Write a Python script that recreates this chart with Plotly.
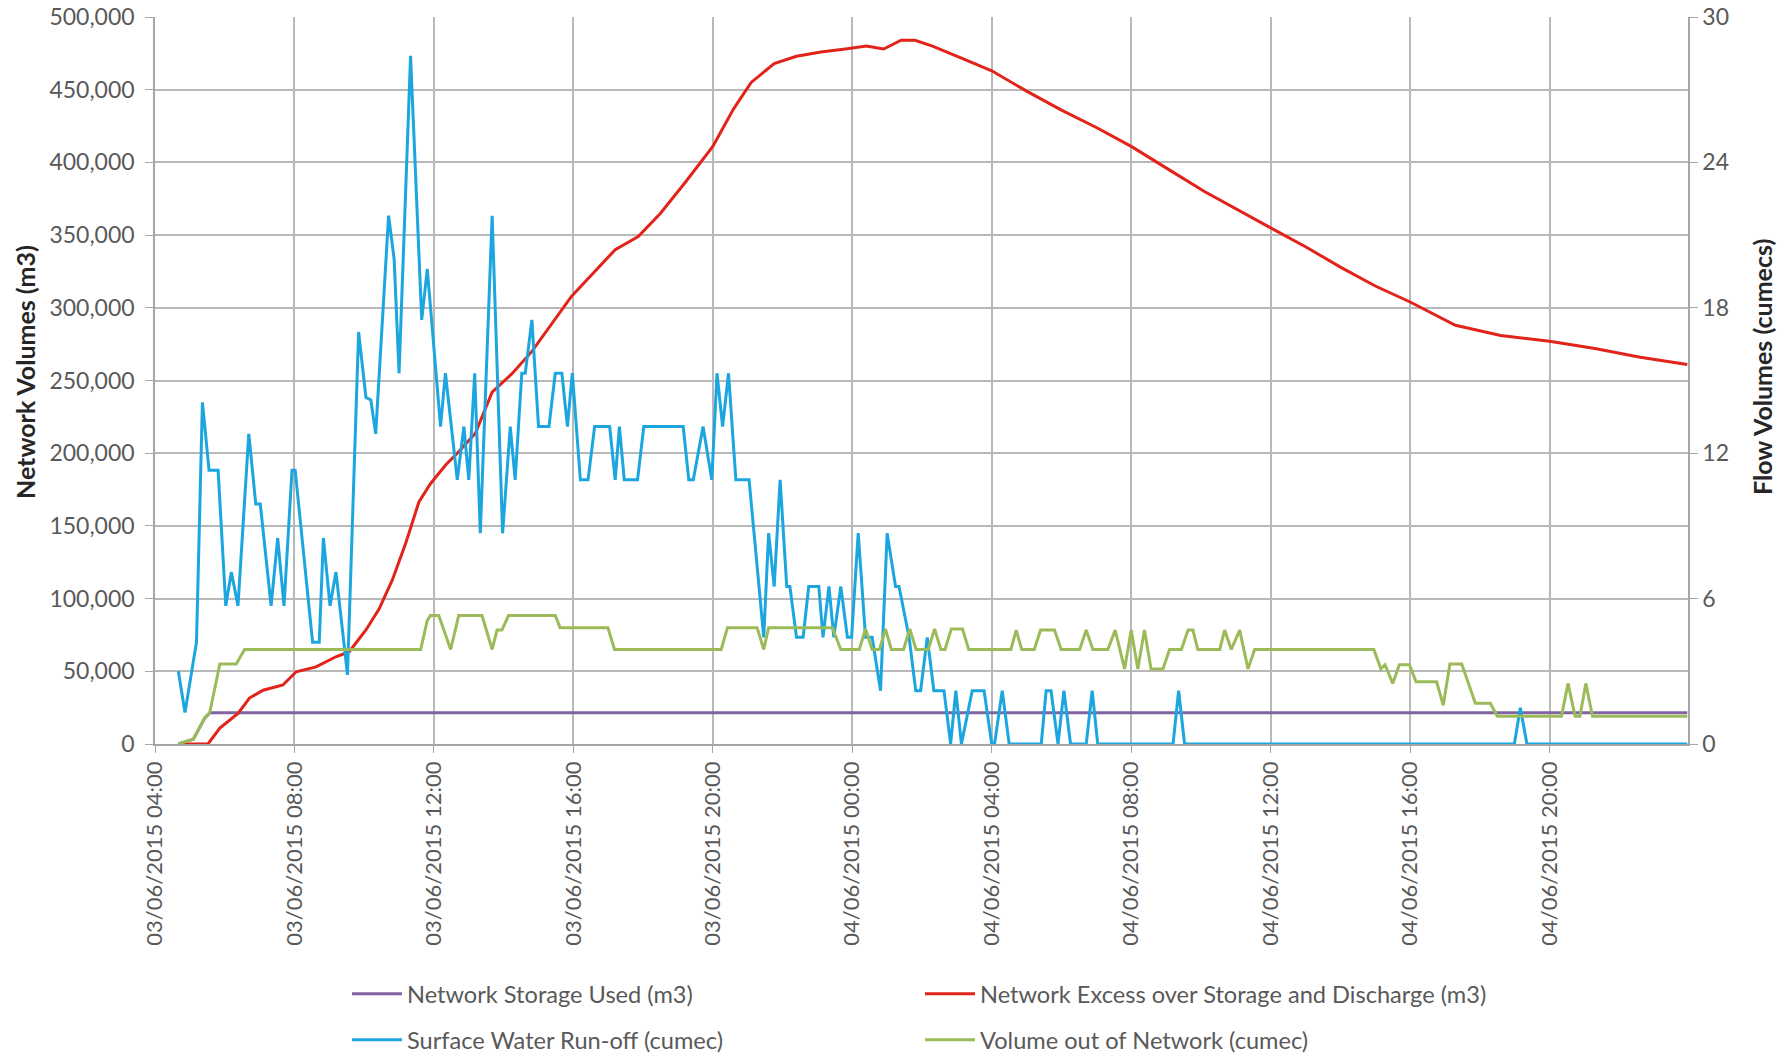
import pandas as pd
import plotly.graph_objects as go

# ---- data (time = hours after 03/06/2015 00:00) ----
storage_h = [4.67, 5.1, 5.43, 5.58, 47.95]
storage_m3 = [0, 3300, 18000, 21500, 21500]

excess_h = [4.67, 5.52, 5.86, 6.38, 6.71, 7.1, 7.67, 8.05, 8.62, 9.19, 9.57, 10.05, 10.43,
            10.81, 11.19, 11.57, 11.9, 12.33, 12.71, 13.19, 13.67, 14.24, 14.81, 15.38, 15.95,
            17.2, 17.86, 18.5, 19.2, 20.0, 20.6, 21.1, 21.76, 22.4, 23.1, 23.8, 24.4, 24.9,
            25.4, 25.8, 26.3, 27.2, 28.0, 29.0, 30.0, 31.0, 32.0, 33.15, 34.1, 36.0, 37.0,
            38.0, 39.0, 40.0, 41.3, 42.6, 44.0, 45.3, 46.6, 47.95]
excess_m3 = [0, 0, 11000, 21000, 31600, 37000, 40600, 49700, 53000, 60000, 63500, 78400, 93000,
             113000, 138000, 166500, 179000, 191700, 201000, 213800, 242000, 254700, 270000,
             289000, 308000, 340000, 349000, 365000, 386000, 411000, 437000, 455000, 468000,
             473000, 476000, 478000, 480000, 478000, 484000, 484000, 480000, 471000, 463000,
             449000, 436000, 424000, 411000, 394000, 380000, 355000, 342000, 328000, 315000,
             304000, 288000, 281000, 277000, 272000, 266000, 261000]

runoff_h = [4.67, 4.86, 5.19, 5.36, 5.55, 5.81, 6.03, 6.19, 6.38, 6.69, 6.89, 7.02, 7.33, 7.52,
            7.70, 7.93, 8.02, 8.52, 8.71, 8.83, 9.02, 9.19, 9.52, 9.84, 10.05, 10.19, 10.33,
            10.70, 10.86, 11.0, 11.33, 11.65, 11.81, 12.19, 12.33, 12.67, 12.86, 13.0, 13.17,
            13.33, 13.67, 13.97, 14.19, 14.33, 14.52, 14.62, 14.81, 15.0, 15.30, 15.48, 15.67,
            15.83, 15.97, 16.2, 16.42, 16.61, 17.04, 17.2, 17.32, 17.46, 17.84, 18.02, 19.15,
            19.31, 19.44, 19.72, 19.97, 20.12, 20.28, 20.45, 20.66, 21.04, 21.46, 21.6, 21.76,
            21.93, 22.12, 22.21, 22.4, 22.59, 22.75, 23.04, 23.16, 23.33, 23.47, 23.67, 23.86,
            23.98, 24.17, 24.38, 24.57, 24.81, 25.0, 25.24, 25.34, 25.63, 25.82, 25.96, 26.15,
            26.34, 26.63, 26.82, 26.97, 27.13, 27.44, 27.78, 28.0, 28.08, 28.3, 28.5, 29.42,
            29.56, 29.7, 29.9, 30.07, 30.26, 30.71, 30.88, 31.04, 33.2, 33.36, 33.53, 42.99,
            43.16, 43.35, 47.95]
runoff_cumec = [3.0, 1.3, 4.2, 14.1, 11.3, 11.3, 5.7, 7.1, 5.7, 12.8, 9.9, 9.9, 5.7, 8.5,
                5.7, 11.3, 11.3, 4.2, 4.2, 8.5, 5.7, 7.1, 2.85, 17.0, 14.3, 14.2, 12.8,
                21.8, 20.0, 15.3, 28.4, 17.5, 19.6, 13.1, 15.3, 10.9, 13.1, 10.9, 15.3,
                8.7, 21.8, 8.7, 13.1, 10.9, 15.3, 15.3, 17.5, 13.1, 13.1, 15.3, 15.3,
                13.1, 15.3, 10.9, 10.9, 13.1, 13.1, 10.9, 13.1, 10.9, 10.9, 13.1, 13.1,
                10.9, 10.9, 13.1, 10.9, 15.3, 13.1, 15.3, 10.9, 10.9, 4.4, 8.7, 6.5,
                10.9, 6.5, 6.5, 4.4, 4.4, 6.5, 6.5, 4.4, 6.5, 4.4, 6.5, 4.4,
                4.4, 8.7, 4.4, 4.4, 2.2, 8.7, 6.5, 6.5, 4.4, 2.2, 2.2, 4.4,
                2.2, 2.2, 0, 2.2, 0, 2.2, 2.2, 0, 0, 2.2, 0, 0,
                2.2, 2.2, 0, 2.2, 0, 0, 2.2, 0, 0, 2.2, 0, 0,
                1.5, 0, 0]

outflow_h = [4.67, 5.1, 5.43, 5.57, 5.86, 6.33, 6.57, 11.62, 11.81, 11.9, 12.14, 12.48, 12.71,
             13.38, 13.67, 13.81, 13.95, 14.14, 15.48, 15.62, 16.99, 17.18, 20.24, 20.42,
             21.27, 21.46, 21.6, 23.43, 23.67, 24.2, 24.38, 24.57, 24.78, 24.95, 25.12,
             25.47, 25.65, 25.83, 26.18, 26.36, 26.54, 26.66, 26.84, 27.16, 27.34, 28.55,
             28.7, 28.86, 29.22, 29.4, 29.8, 29.99, 30.52, 30.71, 30.9, 31.33, 31.54, 31.81,
             32.0, 32.19, 32.38, 32.57, 32.91, 33.1, 33.44, 33.63, 33.77, 33.91, 34.54,
             34.68, 34.87, 35.11, 35.35, 35.54, 38.96, 39.16, 39.28, 39.5, 39.69, 39.98,
             40.17, 40.76, 40.95, 41.14, 41.48, 41.87, 42.3, 42.5, 44.34, 44.53, 44.73,
             44.87, 45.04, 45.23, 47.95]
outflow_cumec = [0, 0.2, 1.1, 1.3, 3.3, 3.3, 3.9, 3.9, 5.1, 5.3, 5.3, 3.9, 5.3,
                 5.3, 3.9, 4.7, 4.7, 5.3, 5.3, 4.8, 4.8, 3.9, 3.9, 4.8,
                 4.8, 3.9, 4.8, 4.8, 3.9, 3.9, 4.75, 3.9, 3.9, 4.75, 3.9,
                 3.9, 4.75, 3.9, 3.9, 4.75, 3.9, 3.9, 4.75, 4.75, 3.9, 3.9,
                 4.7, 3.9, 3.9, 4.7, 4.7, 3.9, 3.9, 4.7, 3.9, 3.9, 4.7, 3.1,
                 4.7, 3.1, 4.7, 3.1, 3.1, 3.9, 3.9, 4.7, 4.7, 3.9, 3.9,
                 4.7, 3.9, 4.7, 3.1, 3.9, 3.9, 3.1, 3.27, 2.5, 3.27, 3.27,
                 2.57, 2.57, 1.6, 3.3, 3.3, 1.68, 1.68, 1.14, 1.14, 2.5, 1.14,
                 1.14, 2.5, 1.14, 1.14]

tick_hours = [4, 8, 12, 16, 20, 24, 28, 32, 36, 40, 44]
left_ticks = [0, 50000, 100000, 150000, 200000, 250000, 300000, 350000, 400000, 450000, 500000]
right_ticks = [0, 6, 12, 18, 24, 30]

names = ["Network Storage Used (m3)", "Network Excess over Storage and Discharge (m3)",
         "Surface Water Run-off (cumec)", "Volume out of Network (cumec)"]
colors = ["#8064A2", "#E2231A", "#1BA6DF", "#9BBB59"]

base = pd.Timestamp("2015-06-03 00:00")
def to_time(hours):
    return [base + pd.Timedelta(hours=h) for h in hours]

FONT = "Lato"
TXT = "#595959"

fig = go.Figure()
fig.add_trace(go.Scatter(x=to_time(storage_h), y=storage_m3, name=names[0], mode="lines",
                         line=dict(color=colors[0], width=3), legend="legend", showlegend=True))
fig.add_trace(go.Scatter(x=to_time(excess_h), y=excess_m3, name=names[1], mode="lines",
                         line=dict(color=colors[1], width=3), legend="legend2", showlegend=True))
fig.add_trace(go.Scatter(x=to_time(runoff_h), y=runoff_cumec, name=names[2], mode="lines",
                         line=dict(color=colors[2], width=3), yaxis="y2", legend="legend3",
                         showlegend=True))
fig.add_trace(go.Scatter(x=to_time(outflow_h), y=outflow_cumec, name=names[3], mode="lines",
                         line=dict(color=colors[3], width=3), yaxis="y2", legend="legend4",
                         showlegend=True))

# page has an 8px body margin: figure coords = page coords - 8
OFF = 8
W, H = 1786 - OFF, 1057 - OFF
plot_l, plot_r, plot_t, plot_b = 155 - OFF, 1688 - OFF, 17 - OFF, 744 - OFF
L, R, T, B = plot_l, W - plot_r, plot_t, H - plot_b
pw, ph = W - L - R, H - T - B
def px(xr):
    return (xr - OFF - L) / pw
def py(yr):
    return (H - B - (yr - OFF)) / ph

tickvals = to_time(tick_hours)
ticktext = [t.strftime("%d/%m/%Y %H:%M") for t in tickvals]

fig.update_layout(
    width=W, height=H,
    showlegend=True,
    margin=dict(l=L, r=R, t=T, b=B, autoexpand=False),
    paper_bgcolor="white", plot_bgcolor="white",
    font=dict(family=FONT, size=22, color=TXT),
    xaxis=dict(
        type="date",
        range=[base + pd.Timedelta(hours=4), base + pd.Timedelta(hours=47.97)],
        tickvals=tickvals, ticktext=ticktext, tickangle=-90,
        showgrid=True, gridcolor="#B8B8B8", gridwidth=1.5,
        showline=True, linecolor="#A6A6A6", linewidth=1.5,
        ticks="outside", ticklen=7, tickcolor="#A6A6A6",
        tickfont=dict(family=FONT, size=22, color=TXT),
        zeroline=False,
    ),
    yaxis=dict(
        range=[0, 500000], tickvals=left_ticks, tickformat=",",
        showgrid=True, gridcolor="#B8B8B8", gridwidth=1.5,
        showline=True, linecolor="#A6A6A6", linewidth=1.5,
        ticks="outside", ticklen=8, tickcolor="#A6A6A6",
        ticklabelstandoff=6, ticklabeloverflow="allow",
        tickfont=dict(family=FONT, size=23, color=TXT),
        zeroline=False,
    ),
    yaxis2=dict(
        range=[0, 30], tickvals=right_ticks, overlaying="y", side="right",
        showgrid=False, showline=True, linecolor="#A6A6A6", linewidth=1.5,
        ticks="outside", ticklen=8, tickcolor="#A6A6A6",
        ticklabelstandoff=0, ticklabeloverflow="allow",
        tickfont=dict(family=FONT, size=23, color=TXT),
        zeroline=False,
    ),
    annotations=[
        dict(text="<b>Network Volumes (m3)</b>", xref="paper", yref="paper",
             x=px(25), y=py(372), xanchor="center", yanchor="middle",
             textangle=-90, showarrow=False,
             font=dict(family=FONT, size=25, color="#262626")),
        dict(text="<b>Flow Volumes (cumecs)</b>", xref="paper", yref="paper",
             x=px(1762), y=py(367), xanchor="center", yanchor="middle",
             textangle=-90, showarrow=False,
             font=dict(family=FONT, size=25, color="#262626")),
    ],
)

leg_common = dict(orientation="v", bgcolor="rgba(0,0,0,0)", borderwidth=0,
                  font=dict(family=FONT, size=23.6, color=TXT), itemwidth=50,
                  xanchor="left", yanchor="middle")
fig.update_layout(
    legend=dict(x=px(347), y=py(994), **leg_common),
    legend2=dict(x=px(920), y=py(994), **leg_common),
    legend3=dict(x=px(347), y=py(1040), **leg_common),
    legend4=dict(x=px(920), y=py(1040), **leg_common),
)

fig.write_html("out.html")
